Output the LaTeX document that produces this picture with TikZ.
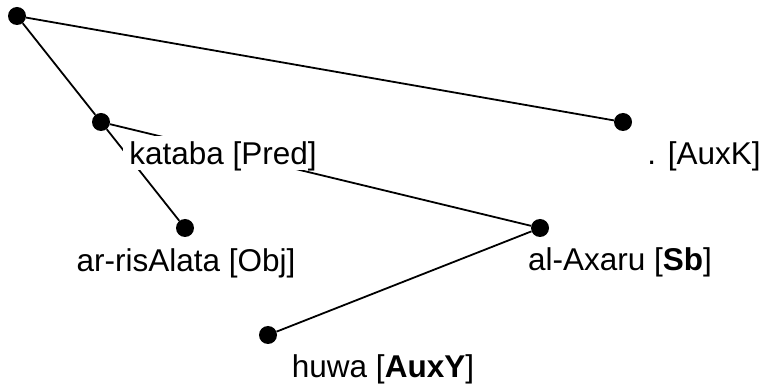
\documentclass[tikz,border=0pt]{standalone}
\usepackage{fontspec}
\setmainfont{Liberation Sans}
\begin{document}
\begin{tikzpicture}[x=1pt,y=-1pt,
  dot/.style={circle,fill=black,inner sep=0pt,minimum size=18pt},
  lbl/.style={fill=white,inner xsep=6pt,inner ysep=0pt,text height=29pt,text depth=5pt,font=\fontsize{31.5}{36}\selectfont,anchor=base},
  edge/.style={line width=1.8pt}]
\useasboundingbox (0,0) rectangle (761,387);
\node[dot] (root) at (17,16) {};
\node[dot] (kataba) at (101,122) {};
\node[dot] (auxk) at (623,122) {};
\node[dot] (obj) at (185,228) {};
\node[dot] (sb) at (540,228) {};
\node[dot] (huwa) at (268,335) {};
\draw[edge] (root) -- (kataba);
\draw[edge] (root) -- (auxk);
\draw[edge] (kataba) -- (obj);
\draw[edge] (kataba) -- (sb);
\draw[edge] (sb) -- (huwa);
\node[lbl] (lkataba) at (223,165) {kataba [Pred]};
\node[lbl] (lauxk) at (704,165) {. [AuxK]};
\node[lbl] (lobj) at (186,272) {ar-risAlata [Obj]};
\node[lbl] (lsb) at (620,271) {al-Axaru [\textbf{Sb}]};
\node[lbl] (lhuwa) at (383,378) {huwa [\textbf{AuxY}]};
\end{tikzpicture}
\end{document}
